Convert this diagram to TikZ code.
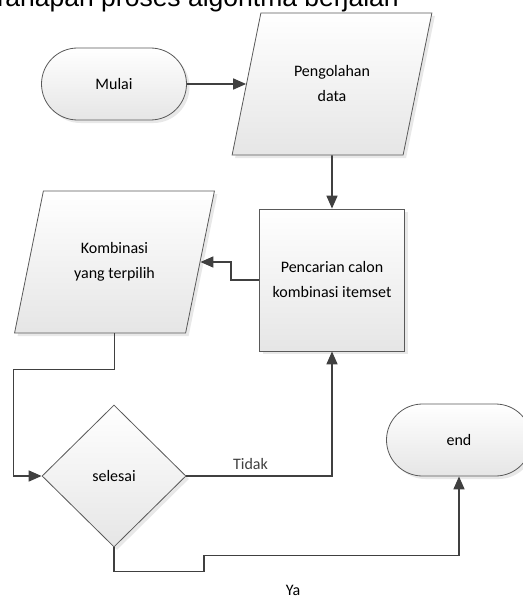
\documentclass[tikz,border=0pt]{standalone}
\usepackage{fontspec}
\setmainfont{Carlito}
\newfontfamily\judulfont{Liberation Sans}
\usetikzlibrary{arrows.meta,calc,positioning,shapes.geometric,shadows}
\definecolor{garis}{rgb}{0.25,0.25,0.25}
\definecolor{tepi}{rgb}{0.35,0.35,0.35}
\definecolor{abumuda}{rgb}{0.90,0.90,0.90}
\tikzset{
  bentuk/.style={
    draw=tepi,
    line width=0.8pt,
    top color=white,
    bottom color=abumuda,
    align=center,
    inner sep=4pt,
    font=\fontsize{16}{25}\selectfont,
    drop shadow={opacity=0.18,shadow xshift=3pt,shadow yshift=-3pt}
  },
  terminal/.style={
    bentuk,
    rounded corners=36pt,
    minimum width=145pt,
    minimum height=72pt
  },
  masukan/.style={
    bentuk,
    trapezium,
    trapezium left angle=69,
    trapezium right angle=111,
    trapezium stretches=true,
    minimum width=200pt,
    minimum height=142pt
  },
  proses/.style={
    bentuk,
    rectangle,
    minimum width=145pt,
    minimum height=142pt
  },
  keputusan/.style={
    bentuk,
    diamond,
    minimum width=144pt,
    minimum height=142pt
  },
  label/.style={
    font=\fontsize{16}{20}\selectfont,
    inner sep=2pt
  },
  arrow/.style={
    -{Triangle[length=13pt,width=11pt]},
    line width=1.7pt,
    garis
  }
}
\begin{document}
\begin{tikzpicture}[x=1pt,y=-1pt]
\useasboundingbox (0,0) rectangle (522,599);
\node[anchor=base east,font=\judulfont\fontsize{26.5}{30}\selectfont,inner sep=0pt] (judul) at (399,7) {Tahapan proses algoritma berjalan};
\node[terminal] (mulai) at (114,84) {Mulai};
\node[masukan] (olah) at (332,84) {Pengolahan\\data};
\node[proses] (cari) at (332,280) {Pencarian calon\\kombinasi itemset};
\node[masukan] (kombi) at (114.5,262) {Kombinasi\\yang terpilih};
\node[keputusan] (selesai) at (114,476) {selesai};
\node[terminal] (akhir) at (459,440) {end};
\node[label] (ya) at (293,590) {Ya};
\draw[arrow] (mulai) -- (olah);
\draw[arrow] (olah) -- (cari);
\draw[arrow] (cari.west) -- ++(-28,0) |- (kombi.east);
\draw[arrow] (kombi.south) -- ++(0,36) -| ([xshift=-28pt]selesai.west) -- (selesai.west);
\draw[arrow] (selesai.east) -| node[label,pos=0.22,above=4pt] (tidak) {Tidak} (cari.south);
\draw[arrow] (selesai.south) -- ++(0,24) -- ++(90,0) -- ++(0,-16) -| (akhir.south);
\end{tikzpicture}
\end{document}
